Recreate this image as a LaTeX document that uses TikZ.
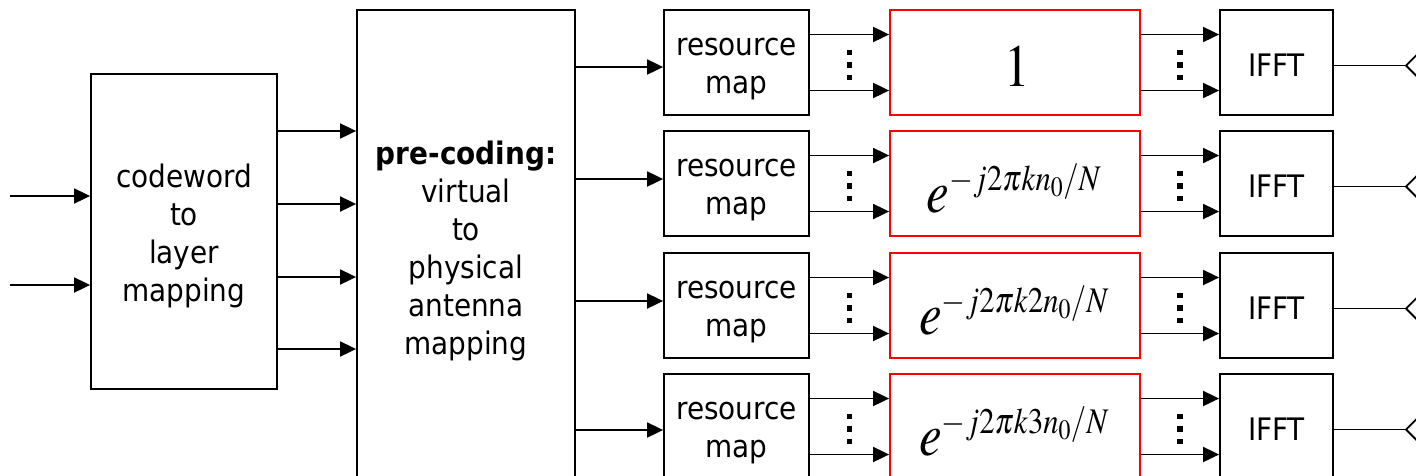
\documentclass[tikz,border=0pt]{standalone}
\usepackage{mathptmx}
\usepackage[no-math]{fontspec}
\setmainfont{DejaVu Sans Condensed}
\usetikzlibrary{arrows.meta,calc}
\DeclareMathSizes{60}{60}{36}{28}
\newcommand{\phasefactor}[1]{\scalebox{0.85}[1]{$#1$}}
\begin{document}
\begin{tikzpicture}[x=1pt,y=-1pt,
  box/.style={draw,line width=1.8pt,inner sep=0pt},
  rowbox/.style={box,minimum height=105pt},
  caption/.style={align=center,inner sep=0pt,font=\fontsize{31}{38}\selectfont},
  phasebox/.style={draw=red,line width=1.8pt,inner sep=0pt,
    minimum width=250pt,minimum height=105pt},
  phase/.style={anchor=base,inner sep=0pt,font=\fontsize{60}{66}\selectfont},
  arr/.style={line width=1.8pt,-{Triangle[length=16pt,width=15pt]}},
  wire/.style={line width=1.8pt},
  vdots/.pic={\foreach \d in {-12.5,0,12.5}
    \fill (-2.6,\d-2.6) rectangle (2.6,\d+2.6);},
]
\clip (0,0) rectangle (1416,475);

% codeword to layer mapping
\node[box,minimum width=186pt,minimum height=315pt] (cw) at (184,231.5) {};
\node[caption] (cwt) at ($(cw.center)+(0,4)$) {codeword\\to\\layer\\mapping};
\coordinate (in1) at (10,196);
\coordinate (in2) at (10,285);
\draw[arr] (in1) -- (cw.west |- in1);
\draw[arr] (in2) -- (cw.west |- in2);

% precoding
\node[box,minimum width=218pt,minimum height=476pt] (pc) at (466,248) {};
\node[caption] (pct) at ($(pc.center)+(0,3)$)
  {\textbf{pre-coding:}\\virtual\\to\\physical\\antenna\\mapping};
\foreach \y [count=\k] in {131,204,277,349}{
  \coordinate (lay\k) at (0,\y);
  \draw[arr] (cw.east |- lay\k) -- (pc.west |- lay\k);
}

% one branch per antenna
\foreach \i/\c/\py/\dy/\dx/\f in {
    1/62.5/67/23.5/2/{1},
    2/183.5/179/28.5/-1/{e^{-j2\pi kn_0/N}},
    3/305.5/301/28.5/-1/{e^{-j2\pi k2n_0/N}},
    4/426.5/430/28.5/-1/{e^{-j2\pi k3n_0/N}}}{
  \node[rowbox,minimum width=145pt] (rm\i) at (736.5,\c) {};
  \node[caption] (rmt\i) at ($(rm\i.center)+(0,7)$) {resource\\map};
  \node[phasebox] (ph\i) at (1015,\c) {};
  \node[phase] (pht\i) at ($(ph\i.center)+(\dx,\dy)$) {\phasefactor{\f}};
  \node[rowbox,minimum width=113pt] (ifft\i) at (1276.5,\c) {};
  \node[caption] (ifftt\i) at ($(ifft\i.center)+(0,3)$) {IFFT};
  \coordinate (pin\i) at (0,\py);
  \draw[arr] (pc.east |- pin\i) -- (rm\i.west |- pin\i);
  \draw[arr] ($(rm\i.east)+(0,-28)$) -- ($(ph\i.west)+(0,-28)$);
  \draw[arr] ($(rm\i.east)+(0,28)$) -- ($(ph\i.west)+(0,28)$);
  \draw[arr] ($(ph\i.east)+(0,-28)$) -- ($(ifft\i.west)+(0,-28)$);
  \draw[arr] ($(ph\i.east)+(0,28)$) -- ($(ifft\i.west)+(0,28)$);
  \pic at ($(rm\i.east)!0.5!(ph\i.west)+(0,2.5)$) {vdots};
  \pic at ($(ph\i.east)!0.5!(ifft\i.west)+(0,2.5)$) {vdots};
  \coordinate (ant\i) at (1406,\c+3);
  \draw[wire] (ifft\i.east |- ant\i) -- (ant\i);
  \draw[wire] ($(ant\i)+(14,-14)$) -- (ant\i) -- ($(ant\i)+(14,14)$);
}
\end{tikzpicture}
\end{document}
